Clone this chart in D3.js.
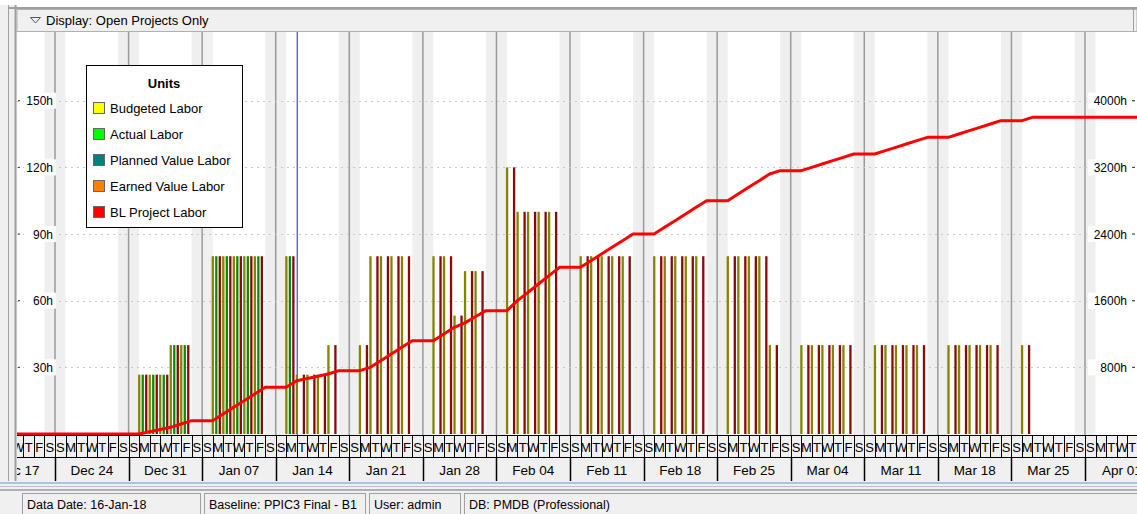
<!DOCTYPE html>
<html>
<head>
<meta charset="utf-8">
<script src="https://cdn.jsdelivr.net/npm/d3@7"></script>
<style>
  body { margin: 0; background: #fff; }
  text { font-family: "Liberation Sans", Arial, sans-serif; }
</style>
</head>
<body>
<div id="chart"></div>
<script>
// days that carry labor, with hours per series (left axis)
const workDays = [
	"2018-01-01", "2018-01-02", "2018-01-03", "2018-01-04", "2018-01-05",
	"2018-01-08", "2018-01-09", "2018-01-10", "2018-01-11", "2018-01-12",
	"2018-01-15", "2018-01-16", "2018-01-17", "2018-01-18", "2018-01-19",
	"2018-01-22", "2018-01-23", "2018-01-24", "2018-01-25", "2018-01-26",
	"2018-01-29", "2018-01-30", "2018-01-31", "2018-02-01", "2018-02-02",
	"2018-02-05", "2018-02-06", "2018-02-07", "2018-02-08", "2018-02-09",
	"2018-02-12", "2018-02-13", "2018-02-14", "2018-02-15", "2018-02-16",
	"2018-02-19", "2018-02-20", "2018-02-21", "2018-02-22", "2018-02-23",
	"2018-02-26", "2018-02-27", "2018-02-28", "2018-03-01", "2018-03-02",
	"2018-03-05", "2018-03-06", "2018-03-07", "2018-03-08", "2018-03-09",
	"2018-03-12", "2018-03-13", "2018-03-14", "2018-03-15", "2018-03-16",
	"2018-03-19", "2018-03-20", "2018-03-21", "2018-03-22", "2018-03-23",
	"2018-03-26"
];
const budgetedLabor = [
	26.7, 26.7, 26.7, 40, 40,
	80, 80, 80, 80, 80,
	80, 26.7, 26.7, 26.7, 40,
	40, 80, 80, 80, 80,
	80, 80, 53.3, 73.3, 73.3,
	120, 100, 100, 100, 100,
	80, 80, 80, 80, 80,
	80, 80, 80, 80, 80,
	80, 80, 80, 80, 40,
	40, 40, 40, 40, 40,
	40, 40, 40, 40, 40,
	40, 40, 40, 40, 40,
	40
];
// actuals stop at the data date (16-Jan-18)
const actualLabor = [
	26.7, 26.7, 26.7, 40, 40,
	80, 80, 80, 80, 80,
	80
];
const blProjectLabor = budgetedLabor.slice();

const dataDate = "2018-01-16";
const leftTicks = [30, 60, 90, 120, 150];
const rightTicks = [800, 1600, 2400, 3200, 4000];
const dayLetters = ["S", "M", "T", "W", "T", "F", "S"];
const weekLabels = ["Dec 17", "Dec 24", "Dec 31", "Jan 07", "Jan 14", "Jan 21", "Jan 28",
	"Feb 04", "Feb 11", "Feb 18", "Feb 25", "Mar 04", "Mar 11", "Mar 18", "Mar 25", "Apr 01"];

const legendItems = ["Budgeted Labor", "Actual Labor", "Planned Value Labor", "Earned Value Labor", "BL Project Labor"];
const legendColors = ["#ffff00", "#00ff00", "#008080", "#ff8000", "#ff0000"];

let width = 1137, height = 514;
let plot = { left: 17, right: 1137, top: 32, bottom: 435 };

const parse = d3.utcParse("%Y-%m-%d");

let x = d3.scaleUtc()
	.domain([Date.UTC(2017, 11, 24), Date.UTC(2018, 3, 1)])
	.range([55, 1085]);
let yLeft = d3.scaleLinear().domain([0, 150]).range([434, 100.7]);
let yRight = d3.scaleLinear().domain([0, 4000]).range([434, 100.7]);

let svg = d3.select("#chart").append("svg")
	.attr("width", width)
	.attr("height", height);

svg.append("defs").append("clipPath").attr("id", "plotclip")
	.append("rect")
	.attr("x", plot.left).attr("y", 0)
	.attr("width", plot.right - plot.left).attr("height", 482);

// outer frame on the left
svg.append("rect").attr("x", 0).attr("y", 5).attr("width", 17).attr("height", 477).attr("fill", "#f0f0f0");
svg.append("line").attr("x1", 8.5).attr("x2", 8.5).attr("y1", 5).attr("y2", 482).attr("stroke", "#a0a0a0");
svg.append("line").attr("x1", 15.5).attr("x2", 15.5).attr("y1", 5).attr("y2", 482).attr("stroke", "#a0a0a0").attr("stroke-width", 2);
svg.append("line").attr("x1", 8).attr("x2", width).attr("y1", 8).attr("y2", 8).attr("stroke", "#a0a0a0").attr("stroke-width", 2);

// display header band
svg.append("rect")
	.attr("x", 17).attr("y", 9.5).attr("width", width - 17).attr("height", 22)
	.attr("fill", "#f0f0f0").attr("stroke", "#b0b0b0");
svg.append("path")
	.attr("d", "M30.5,17.5 L40.5,17.5 L35.5,23 Z")
	.attr("fill", "none").attr("stroke", "#555");
svg.append("text")
	.attr("x", 46).attr("y", 25)
	.style("font-size", "13px")
	.text("Display: Open Projects Only");
svg.append("line").attr("x1", 1133.5).attr("x2", 1133.5).attr("y1", 9).attr("y2", 31).attr("stroke", "#a0a0a0");

let g = svg.append("g").attr("clip-path", "url(#plotclip)");

// chart background
g.append("rect")
	.attr("x", plot.left).attr("y", plot.top)
	.attr("width", plot.right - plot.left).attr("height", plot.bottom - plot.top)
	.attr("fill", "#fff");

let dayW = x(d3.utcDay.offset(x.domain()[0], 1)) - x(x.domain()[0]);
let allDays = d3.utcDay.range(Date.UTC(2017, 11, 17), Date.UTC(2018, 3, 14))
	.filter(d => x(d) + dayW > plot.left && x(d) < plot.right);

// weekend shading
g.selectAll(".weekend")
	.data(allDays.filter(d => d.getUTCDay() === 0 || d.getUTCDay() === 6))
	.enter().append("rect")
	.attr("x", d => x(d))
	.attr("y", plot.top)
	.attr("width", dayW)
	.attr("height", plot.bottom - plot.top)
	.attr("fill", "#efefef");

let weekStarts = weekLabels.map((w, i) => d3.utcDay.offset(Date.UTC(2017, 11, 17), 7 * i));

// week separators
g.selectAll(".weekline")
	.data(weekStarts)
	.enter().append("line")
	.attr("x1", d => x(d)).attr("x2", d => x(d))
	.attr("y1", plot.top).attr("y2", plot.bottom)
	.attr("stroke", "#9a9a9a").attr("stroke-width", 1.5);

// dotted grid
g.selectAll(".grid")
	.data(leftTicks)
	.enter().append("line")
	.attr("x1", plot.left).attr("x2", plot.right)
	.attr("y1", d => Math.round(yLeft(d)) + 0.5).attr("y2", d => Math.round(yLeft(d)) + 0.5)
	.attr("stroke", "#c8c8c8").attr("stroke-dasharray", "2,4");

// data date line
g.append("line")
	.attr("x1", x(parse(dataDate)) + 0.5).attr("x2", x(parse(dataDate)) + 0.5)
	.attr("y1", plot.top).attr("y2", plot.bottom)
	.attr("stroke", "#4040ff").attr("stroke-width", 1.2);

// daily histogram bars
let barW = 2.3;
let seriesBars = [
	{ values: budgetedLabor, color: "#848400", offset: -1 },
	{ values: actualLabor, color: "#0a8a0a", offset: 2.5 },
	{ values: blProjectLabor, color: "#8a0a0a", offset: 6 }
];
seriesBars.forEach(s => {
	g.append("g").selectAll("rect")
		.data(s.values.map((v, i) => ({ day: parse(workDays[i]), v: v })))
		.enter().append("rect")
		.attr("x", d => x(d.day) + s.offset)
		.attr("y", d => yLeft(d.v))
		.attr("width", barW)
		.attr("height", d => yLeft(0) - yLeft(d.v))
		.attr("fill", s.color);
});

// cumulative BL project labor (right axis)
let cum = d3.cumsum(blProjectLabor);
let linePts = [[plot.left, 0]];
workDays.forEach((d, i) => {
	let day = parse(d);
	linePts.push([x(day), i === 0 ? 0 : cum[i - 1]]);
	linePts.push([x(d3.utcDay.offset(day, 1)), cum[i]]);
});
linePts.push([plot.right, cum[cum.length - 1]]);

g.append("path")
	.datum(linePts)
	.attr("fill", "none")
	.attr("stroke", "#ff0000")
	.attr("stroke-width", 3)
	.attr("stroke-linejoin", "round")
	.attr("d", d3.line().x(d => d[0]).y(d => yRight(d[1])));

// left axis labels
let leftAxis = svg.append("g");
leftTicks.forEach(t => {
	let yy = yLeft(t);
	leftAxis.append("rect").attr("x", 24).attr("y", yy - 8).attr("width", 32).attr("height", 16).attr("fill", "#fff");
	leftAxis.append("line").attr("x1", 18).attr("x2", 20).attr("y1", yy).attr("y2", yy).attr("stroke", "#333");
	leftAxis.append("text").attr("x", 53).attr("y", yy + 4.5)
		.attr("text-anchor", "end").style("font-size", "12px").text(t + "h");
});

// right axis labels
let rightAxis = svg.append("g");
rightTicks.forEach(t => {
	let yy = yRight(t);
	rightAxis.append("rect").attr("x", 1088).attr("y", yy - 8).attr("width", 42).attr("height", 16).attr("fill", "#fff");
	rightAxis.append("line").attr("x1", 1132).attr("x2", 1135).attr("y1", yy).attr("y2", yy).attr("stroke", "#333");
	rightAxis.append("text").attr("x", 1127).attr("y", yy + 4.5)
		.attr("text-anchor", "end").style("font-size", "12px").text(t + "h");
});

// legend
let legend = svg.append("g");
legend.append("rect")
	.attr("x", 86.5).attr("y", 65.5).attr("width", 156).attr("height", 162)
	.attr("fill", "#fff").attr("stroke", "#000");
legend.append("text")
	.attr("x", 164).attr("y", 88)
	.attr("text-anchor", "middle")
	.style("font-size", "13px").style("font-weight", "bold")
	.text("Units");
legendItems.forEach((name, i) => {
	let cy = 108 + i * 26;
	legend.append("rect")
		.attr("x", 93.5).attr("y", cy - 5.5).attr("width", 11).attr("height", 11)
		.attr("fill", legendColors[i]).attr("stroke", "#666");
	legend.append("text")
		.attr("x", 110).attr("y", cy + 5)
		.style("font-size", "13px")
		.text(name);
});

// time scale header
let hdr = svg.append("g").attr("clip-path", "url(#plotclip)");
hdr.append("rect")
	.attr("x", plot.left).attr("y", 435).attr("width", plot.right - plot.left).attr("height", 46)
	.attr("fill", "#f0f0f0");
hdr.append("line").attr("x1", plot.left).attr("x2", plot.right).attr("y1", 435.5).attr("y2", 435.5).attr("stroke", "#000");
hdr.append("line").attr("x1", plot.left).attr("x2", plot.right).attr("y1", 457.5).attr("y2", 457.5).attr("stroke", "#000");

hdr.selectAll(".dayline")
	.data(allDays)
	.enter().append("line")
	.attr("x1", d => Math.round(x(d)) + 0.5).attr("x2", d => Math.round(x(d)) + 0.5)
	.attr("y1", 435).attr("y2", 458)
	.attr("stroke", "#000");

hdr.selectAll(".daylabel")
	.data(allDays)
	.enter().append("text")
	.attr("x", d => x(d) + dayW / 2)
	.attr("y", 452)
	.attr("text-anchor", "middle")
	.style("font-size", "13px")
	.text(d => dayLetters[d.getUTCDay()]);

hdr.selectAll(".weeksep")
	.data(weekStarts)
	.enter().append("line")
	.attr("x1", d => Math.round(x(d)) + 0.5).attr("x2", d => Math.round(x(d)) + 0.5)
	.attr("y1", 458).attr("y2", 481)
	.attr("stroke", "#000").attr("stroke-width", 1.5);

hdr.selectAll(".weeklabel")
	.data(weekLabels)
	.enter().append("text")
	.attr("x", (d, i) => x(weekStarts[i]) + 3.5 * dayW)
	.attr("y", 475)
	.attr("text-anchor", "middle")
	.style("font-size", "13.5px")
	.text(d => d);

// status bar
svg.append("rect").attr("x", 0).attr("y", 481).attr("width", width).attr("height", 33).attr("fill", "#f0f0f0");
svg.append("line").attr("x1", 0).attr("x2", width).attr("y1", 483).attr("y2", 483).attr("stroke", "#a8c4e4").attr("stroke-width", 2);
svg.append("line").attr("x1", 0).attr("x2", width).attr("y1", 486.5).attr("y2", 486.5).attr("stroke", "#c0c0c0");
svg.append("line").attr("x1", 0).attr("x2", width).attr("y1", 490).attr("y2", 490).attr("stroke", "#b0b0b0").attr("stroke-width", 2);

const statusFields = ["Data Date: 16-Jan-18", "Baseline: PPIC3 Final - B1", "User: admin", "DB: PMDB (Professional)"];
const statusX = [22, 204, 369, 464];
const statusW = [178, 161, 91, 673];
statusFields.forEach((s, i) => {
	svg.append("rect")
		.attr("x", statusX[i] + 0.5).attr("y", 493.5).attr("width", statusW[i]).attr("height", 22)
		.attr("fill", "#f0f0f0").attr("stroke", "#a0a0a0");
	svg.append("text")
		.attr("x", statusX[i] + 5).attr("y", 509)
		.style("font-size", "12.5px")
		.text(s);
});
</script>
</body>
</html>
